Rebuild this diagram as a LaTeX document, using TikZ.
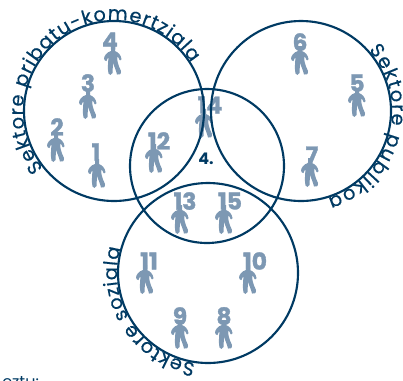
\documentclass[tikz,border=0pt]{standalone}
\usepackage{fontspec}
\setmainfont{Poppins}
\usepackage{xcolor}
\usetikzlibrary{decorations.text}
\definecolor{navy}{HTML}{003A63}
\definecolor{slate}{HTML}{7D98B3}

\tikzset{
	sector/.style={draw=navy,line width=1.6pt},
	numlabel/.style={text=slate,font=\fontsize{17.5}{18}\selectfont\bfseries\addfontfeature{FakeBold=1.5},inner sep=0pt},
	sectorname/.style={
		decorate,
		decoration={text along path,raise=0pt,text align={fit to path},
			text={|\fontsize{14.5}{16}\selectfont\addfontfeature{FakeBold=0.4}\color{navy}|#1}}
	},
	person/.pic={
		\fill[slate] (-2,-16) -- (2,-16) -- (2,-11) .. controls (5,-10) and (8,-7) .. (8.5,-3)
			.. controls (8.5,-2) and (7,-1) .. (6.5,-2) .. controls (6,-3) and (5.5,-5) .. (4.5,-5.5)
			.. controls (3.5,-3) and (5,3) .. (8,9) .. controls (8.5,12) and (6,14) .. (4,12.5)
			.. controls (3,8) and (1,4) .. (0,1) .. controls (0,4) and (-0.5,8) .. (-0.5,11)
			.. controls (-1,13.5) and (-4,13.5) .. (-4.5,11.5) .. controls (-5.5,7) and (-5,2) .. (-4.5,-5)
			.. controls (-5.5,-4) and (-6,-2) .. (-6.5,-1) .. controls (-7.5,-0.5) and (-9,-2) .. (-9,-3.5)
			.. controls (-9,-6) and (-6,-10) .. (-2,-11) -- cycle;
	}
}

\begin{document}
\begin{tikzpicture}[x=0.75pt,y=-0.75pt]
	\useasboundingbox (0,0) rectangle (403,380);

	% Figures with their numbers
	\foreach \figx/\figy/\numx/\numy/\num in {
		97/175/96/152/1, 56/149/57/127/2, 88/106/88/83/3, 113/62/110/41/4,
		357/104/357/83/5, 300/62/300/42/6, 310/174/312/155/7, 224/336/224/316/8,
		180/336/180/316/9, 248/281/255/261/10, 145/281/149/261/11, 154/160/159/141/12,
		180/221/185/201/13, 204/125/210/105/14, 224/221/230/201/15}{
		\pic at (\figx,\figy) {person};
		\node[numlabel] (num\num) at (\numx,\numy) {\num};
	}

	% Circles
	\draw[sector] (114,111) circle (90);
	\draw[sector] (301,111) circle (90);
	\draw[sector] (207,166) circle (77);
	\draw[sector] (208,273) circle (90);

	% Sector names
	\path[sectorname={Sektore pribatu-komertziala}] (114,111) ++(141:91) arc[start angle=141,end angle=328,radius=91];
	\path[sectorname={Sektore publikoa}] (301,111) ++(-42:91) arc[start angle=-42,end angle=73,radius=91];
	\path[sectorname={Sektore soziala}] (208,273) ++(98:91) arc[start angle=98,end angle=196,radius=91];

	\node[text=navy,font=\fontsize{12}{13}\selectfont\bfseries,inner sep=0pt] (four) at (206,159) {4.};
	\node[text=navy,font=\fontsize{12}{13}\selectfont,anchor=base west,inner sep=0pt] (cutoff) at (2,387) {eztu:};
\end{tikzpicture}
\end{document}
